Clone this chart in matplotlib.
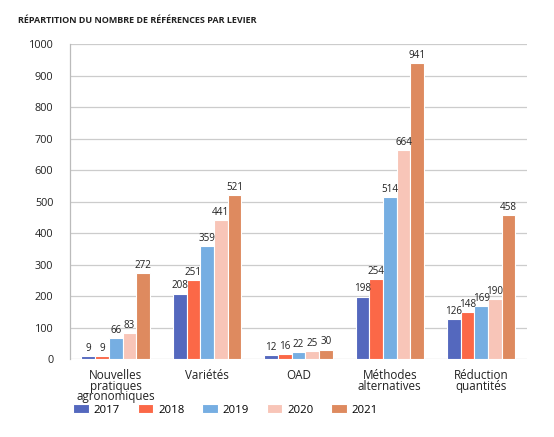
import numpy as np
import matplotlib
matplotlib.use('Agg')
import matplotlib.pyplot as plt

plt.rcParams['font.family'] = ['Open Sans', 'DejaVu Sans']

# Data
categories = ['Nouvelles\npratiques\nagronomiques', 'Variétés', 'OAD',
              'Méthodes\nalternatives', 'Réduction\nquantités']
years = ['2017', '2018', '2019', '2020', '2021']
v2017 = [9, 208, 12, 198, 126]
v2018 = [9, 251, 16, 254, 148]
v2019 = [66, 359, 22, 514, 169]
v2020 = [83, 441, 25, 664, 190]
v2021 = [272, 521, 30, 941, 458]
series = [v2017, v2018, v2019, v2020, v2021]
colors = ['#5468BE', '#FB6847', '#76AEE2', '#F8C5B8', '#DE8A5F']

fig = plt.figure(figsize=(5.54, 4.37), dpi=100)
ax = fig.add_axes([0.1264, 0.1785, 0.8246, 0.7205])

x = np.arange(len(categories))
w = 0.15
for i, (vals, c, yr) in enumerate(zip(series, colors, years)):
    pos = x - 2 * w + i * w
    ax.bar(pos, vals, width=w, color=c, edgecolor='white',
           linewidth=0.8, label=yr, zorder=3)
    for xb, v in zip(pos, vals):
        ax.text(xb, v + 7, str(v), ha='center', va='bottom',
                fontsize=7.1, color='#222222', zorder=4)

ax.set_xlim(-0.5, len(categories) - 0.5)
ax.set_ylim(0, 1000)
ax.set_yticks(np.arange(0, 1001, 100))
ax.yaxis.grid(True, color='#cccccc', linewidth=0.9, zorder=0)
ax.set_axisbelow(True)
for s in ['top', 'right', 'bottom']:
    ax.spines[s].set_visible(False)
ax.spines['left'].set_color('#bbbbbb')
ax.spines['left'].set_linewidth(0.9)
ax.tick_params(axis='y', length=0, pad=12, labelsize=7.8, labelcolor='#222222')
ax.tick_params(axis='x', length=0, pad=7)
ax.set_xticks(x)
ax.set_xticklabels(categories, fontsize=8.4, color='#222222', linespacing=0.78)

fig.text(0.033, 0.952, 'RÉPARTITION DU NOMBRE DE RÉFÉRENCES PAR LEVIER',
         fontsize=6.5, fontweight='bold', color='#222222', va='center')

leg = fig.legend(loc='center left', bbox_to_anchor=(0.114, 0.062), ncol=5,
                 frameon=False, fontsize=8.2, handlelength=1.35,
                 handleheight=0.8, columnspacing=1.55, handletextpad=0.45)

fig.savefig('out.png', dpi=100)
